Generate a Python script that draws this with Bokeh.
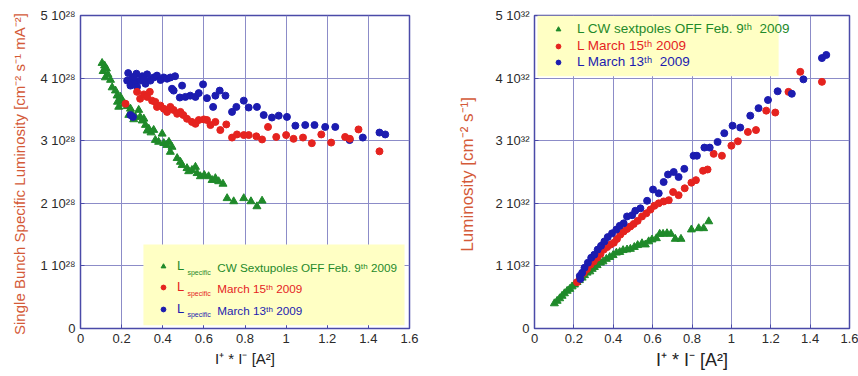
from bokeh.plotting import figure
from bokeh.layouts import row
from bokeh.models import (FixedTicker, Range1d, Legend, LegendItem, Label, BoxAnnotation)
from bokeh.embed import file_html
from bokeh.resources import INLINE

# ---------------- data (left: specific luminosity, units of 1e28) ----------------
ls_cw_x = [0.105, 0.117, 0.126, 0.110, 0.133, 0.121, 0.146, 0.154, 0.170, 0.178, 0.194, 0.180, 0.200,
           0.214, 0.227, 0.186, 0.243, 0.235, 0.250, 0.267, 0.259, 0.283, 0.290, 0.308, 0.300, 0.316,
           0.332, 0.324, 0.343, 0.356, 0.397, 0.364, 0.380, 0.405, 0.420, 0.430, 0.445, 0.437, 0.470,
           0.486, 0.494, 0.518, 0.526, 0.542, 0.559, 0.567, 0.583, 0.602, 0.623, 0.640, 0.656, 0.672,
           0.693, 0.713, 0.745, 0.794, 0.829, 0.858, 0.883]
ls_cw_y = [4.24, 4.20, 4.15, 4.11, 4.06, 4.01, 3.97, 3.85, 3.80, 3.72, 3.70, 3.62, 3.64,
           3.59, 3.55, 3.54, 3.51, 3.41, 3.43, 3.38, 3.34, 3.49, 3.38, 3.35, 3.32, 3.25,
           3.19, 3.16, 3.13, 3.17, 3.11, 3.01, 2.98, 2.96, 2.93, 2.98, 2.90, 2.82, 2.72,
           2.66, 2.61, 2.56, 2.51, 2.53, 2.58, 2.48, 2.43, 2.45, 2.43, 2.37, 2.40, 2.35,
           2.31, 2.08, 2.03, 2.08, 2.03, 1.95, 2.04]

ls_m15_x = [0.219, 0.275, 0.290, 0.308, 0.324, 0.337, 0.348, 0.364, 0.372, 0.389, 0.405, 0.421, 0.437,
            0.453, 0.470, 0.486, 0.500, 0.518, 0.542, 0.559, 0.575, 0.600, 0.615, 0.632, 0.656, 0.680,
            0.709, 0.737, 0.761, 0.794, 0.818, 0.855, 0.883, 0.912, 0.952, 1.000, 1.036, 1.082, 1.125,
            1.171, 1.219, 1.287, 1.310, 1.352, 1.454]
ls_m15_y = [3.59, 3.78, 3.67, 3.74, 3.70, 3.78, 3.64, 3.62, 3.54, 3.56, 3.51, 3.46, 3.54,
            3.49, 3.43, 3.46, 3.41, 3.35, 3.30, 3.27, 3.33, 3.34, 3.33, 3.25, 3.30, 3.17,
            3.26, 3.05, 3.10, 3.09, 3.09, 3.07, 3.02, 3.22, 3.06, 3.09, 3.03, 3.05, 2.96,
            3.10, 2.97, 3.06, 3.03, 3.18, 2.83]

ls_m13_x = [0.232, 0.272, 0.300, 0.324, 0.251, 0.227, 0.243, 0.267, 0.275, 0.291, 0.316, 0.340, 0.356,
            0.372, 0.389, 0.405, 0.421, 0.437, 0.460, 0.445, 0.453, 0.494, 0.483, 0.510, 0.534, 0.559,
            0.575, 0.596, 0.615, 0.645, 0.656, 0.677, 0.705, 0.737, 0.758, 0.794, 0.818, 0.858, 0.891,
            0.931, 0.964, 1.004, 1.045, 1.093, 1.138, 1.190, 1.239, 1.309, 1.373, 1.454, 1.482, 0.243,
            0.255, 0.260, 0.308]
ls_m13_y = [4.08, 4.07, 4.03, 4.06, 3.99, 3.96, 3.88, 3.94, 3.86, 3.96, 3.91, 3.96, 4.01,
            4.04, 3.97, 4.01, 3.99, 4.01, 4.03, 3.83, 3.80, 3.88, 3.69, 3.70, 3.72, 3.70,
            3.76, 3.90, 3.68, 3.54, 3.72, 3.80, 3.72, 3.46, 3.54, 3.64, 3.53, 3.54, 3.41,
            3.37, 3.40, 3.38, 3.24, 3.25, 3.25, 3.22, 3.22, 3.01, 3.05, 3.13, 3.10, 3.41,
            3.38, 4.02, 3.99]

# ---------------- data (right: luminosity, units of 1e32) ----------------
l_cw_x = [0.101, 0.115, 0.128, 0.140, 0.152, 0.166, 0.179, 0.191, 0.203, 0.216, 0.228, 0.242, 0.254,
          0.267, 0.281, 0.293, 0.304, 0.318, 0.335, 0.348, 0.365, 0.382, 0.399, 0.416, 0.433, 0.450,
          0.470, 0.487, 0.507, 0.524, 0.546, 0.563, 0.580, 0.597, 0.619, 0.636, 0.653, 0.673, 0.693,
          0.715, 0.744, 0.797, 0.834, 0.859, 0.885]
l_cw_y = [0.40, 0.44, 0.48, 0.52, 0.56, 0.60, 0.63, 0.67, 0.70, 0.74, 0.77, 0.81, 0.85,
          0.89, 0.91, 0.95, 0.98, 1.01, 1.05, 1.07, 1.11, 1.14, 1.17, 1.21, 1.22, 1.25,
          1.26, 1.27, 1.30, 1.33, 1.36, 1.34, 1.39, 1.42, 1.44, 1.51, 1.51, 1.52, 1.51,
          1.43, 1.43, 1.58, 1.60, 1.60, 1.71]

l_m15_x = [0.216, 0.233, 0.250, 0.267, 0.284, 0.301, 0.318, 0.335, 0.352, 0.369, 0.386, 0.403, 0.419,
           0.436, 0.453, 0.470, 0.487, 0.504, 0.524, 0.546, 0.568, 0.589, 0.609, 0.631, 0.656, 0.682,
           0.704, 0.732, 0.763, 0.797, 0.820, 0.856, 0.879, 0.910, 0.952, 1.000, 1.033, 1.084, 1.125,
           1.177, 1.223, 1.290, 1.350, 1.460]
l_m15_y = [0.74, 0.81, 0.89, 0.95, 1.02, 1.07, 1.13, 1.19, 1.26, 1.30, 1.34, 1.37, 1.43,
           1.50, 1.55, 1.59, 1.63, 1.67, 1.72, 1.79, 1.84, 1.90, 1.96, 2.00, 2.03, 2.05,
           2.18, 2.13, 2.24, 2.33, 2.37, 2.52, 2.54, 2.79, 2.76, 2.92, 2.99, 3.14, 3.17,
           3.48, 3.45, 3.78, 4.10, 3.94]

l_m13_x = [0.230, 0.233, 0.242, 0.254, 0.271, 0.288, 0.304, 0.321, 0.338, 0.355, 0.372, 0.394, 0.416,
           0.433, 0.453, 0.470, 0.496, 0.512, 0.538, 0.572, 0.602, 0.631, 0.656, 0.678, 0.707, 0.732,
           0.761, 0.808, 0.825, 0.863, 0.890, 0.930, 0.964, 1.006, 1.045, 1.096, 1.138, 1.186, 1.235,
           1.307, 1.366, 1.460, 1.482]
l_m13_y = [0.84, 0.79, 0.89, 0.97, 1.05, 1.13, 1.18, 1.26, 1.32, 1.39, 1.46, 1.52, 1.58,
           1.64, 1.68, 1.79, 1.81, 1.88, 1.92, 2.04, 2.22, 2.16, 2.34, 2.46, 2.50, 2.42,
           2.55, 2.76, 2.76, 2.89, 2.89, 2.98, 3.12, 3.24, 3.21, 3.40, 3.52, 3.65, 3.79,
           3.75, 3.98, 4.32, 4.37]

x_ticks = [0, 0.2, 0.4, 0.6, 0.8, 1, 1.2, 1.4, 1.6]
y_ticks = [0, 1, 2, 3, 4, 5]
y_labels_left = ["0", "1 10²⁸", "2 10²⁸", "3 10²⁸", "4 10²⁸", "5 10²⁸"]
y_labels_right = ["0", "1 10³²", "2 10³²", "3 10³²", "4 10³²", "5 10³²"]

GREEN = "#1f8a2a"
RED = "#e5231f"
BLUE = "#1c1cb0"
YELLOW = "#ffffc4"
AXLAB = "#d45a38"
GRID = "#8c8cc8"
FRAME = "#4a4aa8"
FONT = "Liberation Sans"


def base_fig(width, mbl, mbr, ylabels, ylabel, ylabel_size, xlabel_size, ylab_standoff):
    p = figure(width=width, height=372, output_backend="svg", toolbar_location=None,
               x_range=Range1d(0, 1.6), y_range=Range1d(0, 5),
               min_border_left=mbl, min_border_right=mbr, min_border_top=15, min_border_bottom=43)
    p.background_fill_color = "white"
    p.border_fill_color = "white"
    p.outline_line_color = FRAME
    p.outline_line_width = 1.5
    p.xaxis.ticker = FixedTicker(ticks=x_ticks)
    p.yaxis.ticker = FixedTicker(ticks=y_ticks)
    p.xaxis.major_label_overrides = {0: "0", 1: "1"}
    p.yaxis.major_label_overrides = {t: s for t, s in zip(y_ticks, ylabels)}
    for ax in (p.xaxis, p.yaxis):
        ax.axis_line_color = FRAME
        ax.major_tick_line_color = FRAME
        ax.major_tick_in = 4
        ax.major_tick_out = 0
        ax.minor_tick_line_color = None
        ax.major_label_text_font = FONT
        ax.major_label_text_font_size = "13px"
        ax.major_label_text_color = "#2a2a2a"
        ax.axis_label_text_font = FONT
        ax.axis_label_text_font_style = "normal"
    p.xaxis.major_label_standoff = 5
    p.yaxis.major_label_standoff = 5
    p.xaxis.axis_label = "I⁺ * I⁻ [A²]"
    p.xaxis.axis_label_text_font_size = xlabel_size
    p.xaxis.axis_label_text_color = "#222222"
    p.xaxis.axis_label_standoff = 4
    p.yaxis.axis_label = ylabel
    p.yaxis.axis_label_text_font_size = ylabel_size
    p.yaxis.axis_label_text_color = AXLAB
    p.yaxis.axis_label_standoff = ylab_standoff
    p.xgrid.ticker = FixedTicker(ticks=x_ticks)
    p.ygrid.ticker = FixedTicker(ticks=y_ticks)
    p.grid.grid_line_color = GRID
    p.grid.grid_line_width = 1
    return p


def one_legend(p, r, label, color, loc, standoff, size):
    leg = Legend(items=[LegendItem(label=label, renderers=[r])], location=loc,
                 background_fill_alpha=0, border_line_color=None, padding=0, spacing=0,
                 margin=0, glyph_width=12, glyph_height=12, label_height=12,
                 label_standoff=standoff, label_text_color=color, label_text_font=FONT,
                 label_text_font_size=size)
    p.add_layout(leg)


# ---------------- left figure ----------------
p1 = base_fig(430, 80, 21, y_labels_left,
              "Single Bunch Specific Luminosity  [cm⁻² s⁻¹ mA⁻²]", "15px", "15px", 9)
g1 = p1.scatter(ls_cw_x, ls_cw_y, marker="triangle", size=8, color=GREEN)
b1 = p1.scatter(ls_m13_x, ls_m13_y, marker="circle", size=7, color=BLUE)
r1 = p1.scatter(ls_m15_x, ls_m15_y, marker="circle", size=7, color=RED)
p1.add_layout(BoxAnnotation(left=0.306, right=1.576, bottom=0.05, top=1.34,
                            fill_color=YELLOW, fill_alpha=1, line_color=None))
rows_left = [(g1, GREEN, "CW Sextupoles OFF Feb. 9ᵗʰ  2009", 0.971),
             (r1, RED, "March 15ᵗʰ  2009", 0.637),
             (b1, BLUE, "March 13ᵗʰ  2009", 0.287)]
for r, c, txt, yc in rows_left:
    ypx = int(round(yc * 62.8)) - 6
    one_legend(p1, r, "L", c, (77, ypx), 8, "13px")
    p1.add_layout(Label(x=0.52, y=yc - 0.07, text="specific", text_font=FONT,
                        text_font_size="7px", text_color=c, text_baseline="middle"))
    p1.add_layout(Label(x=0.665, y=yc, text=txt, text_font=FONT,
                        text_font_size="11.7px", text_color=c, text_baseline="middle"))

# ---------------- right figure ----------------
p2 = base_fig(428, 104, 9, y_labels_right, "Luminosity  [cm⁻² s⁻¹]", "17px", "18px", 16)
g2 = p2.scatter(l_cw_x, l_cw_y, marker="triangle", size=8, color=GREEN)
r2 = p2.scatter(l_m15_x, l_m15_y, marker="circle", size=7, color=RED)
b2 = p2.scatter(l_m13_x, l_m13_y, marker="circle", size=7, color=BLUE)
p2.add_layout(BoxAnnotation(left=0.015, right=1.24, bottom=4.03, top=5.0,
                            fill_color=YELLOW, fill_alpha=1, line_color=None))
one_legend(p2, g2, "L CW sextpoles OFF Feb. 9ᵗʰ  2009", GREEN, (18, 292), 13, "13.5px")
one_legend(p2, r2, "L March 15ᵗʰ 2009", RED, (18, 275), 13, "13.5px")
one_legend(p2, b2, "L March 13ᵗʰ  2009", BLUE, (18, 259), 13, "13.5px")

layout = row(p1, p2)
open("out.html", "w").write(file_html(layout, INLINE))
